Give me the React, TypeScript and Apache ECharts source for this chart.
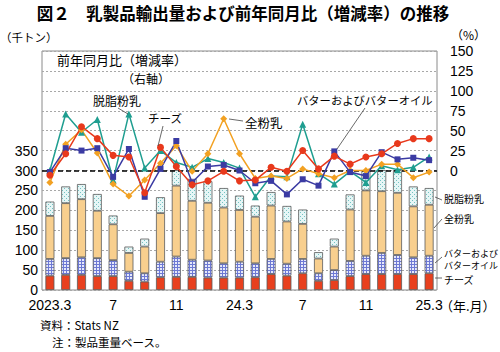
import React, { useEffect, useRef } from 'react';
import * as echarts from 'echarts';

// ---- data ----
const categories = [
  '2023.3', '2023.4', '2023.5', '2023.6', '2023.7', '2023.8', '2023.9', '2023.10', '2023.11', '2023.12',
  '2024.1', '2024.2', '2024.3', '2024.4', '2024.5', '2024.6', '2024.7', '2024.8', '2024.9', '2024.10',
  '2024.11', '2024.12', '2025.1', '2025.2', '2025.3',
];
const tickLabels = [
  '2023.3', '', '', '', '7', '', '', '', '11', '', '', '', '24.3', '', '', '', '7', '', '', '', '11', '', '', '', '25.3',
];
const leftTicks = [0, 50, 100, 150, 200, 250, 300, 350];
const rightTicks = [0, 25, 50, 75, 100, 125, 150];

// export volume (thousand tonnes)
const cheeseVol = [36, 38, 38, 35, 35, 23, 21, 32, 33, 33, 31, 31, 31, 32, 40, 36, 42, 23, 25, 35, 40, 40, 40, 40, 42];
const butterVol = [42, 42, 44, 45, 40, 23, 21, 39, 51, 43, 43, 36, 40, 35, 38, 30, 36, 19, 25, 38, 46, 53, 48, 42, 44];
const wmpVol = [108, 138, 146, 119, 90, 47, 67, 122, 178, 148, 145, 140, 130, 117, 134, 106, 88, 37, 59, 129, 164, 155, 156, 128, 128];
const smpVol = [36, 42, 38, 42, 22, 16, 20, 40, 45, 55, 54, 49, 36, 28, 34, 39, 36, 16, 20, 38, 58, 60, 62, 50, 42];

// year-on-year change (%)
const smpYoY = [0, 71, 48, 64, -12, 71, 3, 25, 10, 4, 15, 10, 3, -33, -7, -8, 58, -4, -17, -1, -15, 6, 1, 4, 17];
const wmpYoY = [-15, 33, 51, 22, -17, -32, -12, 9, 31, -1, 21, 65, 21, -10, -7, -10, 2, -4, -9, 0, 0, 8, 8, -9, -2];
const butterYoY = [-2, 28, 25, 28, -8, 27, -33, 2, 37, -15, 5, 7, 0, -16, -13, -30, -11, -19, 24, -2, -7, 23, 14, 16, 13];
const cheeseYoY = [-6, 21, 55, 40, 19, 17, -28, 29, 5, -18, -13, -1, -13, -12, 4, -1, 25, 2, 18, 8, 17, 21, 34, 40, 40];

const JP = "'Noto Sans CJK JP', sans-serif";
const NUM = "'Liberation Sans', Arial, 'Noto Sans CJK JP', sans-serif";

function makePattern(kind: 'grid' | 'dots') {
  const c = document.createElement('canvas');
  if (kind === 'grid') {
    c.width = 3; c.height = 3;
    const ctx = c.getContext('2d')!;
    ctx.fillStyle = '#e6e8fa';
    ctx.fillRect(0, 0, 3, 3);
    ctx.fillStyle = '#6d79d4';
    ctx.fillRect(0, 0, 3, 1);
    ctx.fillRect(0, 0, 1, 3);
    return { image: c, repeat: 'repeat', imageWidth: 3, imageHeight: 3 } as any;
  }
  c.width = 4; c.height = 4;
  const ctx = c.getContext('2d')!;
  ctx.fillStyle = '#e6f6f6';
  ctx.fillRect(0, 0, 4, 4);
  ctx.fillStyle = '#74c2c2';
  ctx.fillRect(0, 0, 1, 1);
  ctx.fillRect(2, 2, 1, 1);
  return { image: c, repeat: 'repeat', imageWidth: 4, imageHeight: 4 } as any;
}

function txt(text: string, x: number, y: number, size: number, extra: any = {}) {
  return {
    type: 'text', x, y, z: 100,
    style: { text, fontSize: size, fontFamily: JP, fill: '#000', verticalAlign: 'middle', ...extra },
  };
}
function ln(x1: number, y1: number, x2: number, y2: number) {
  return { type: 'line', z: 100, shape: { x1, y1, x2, y2 }, style: { stroke: '#444', lineWidth: 0.8 } };
}

export default function App() {
  const ref = useRef<HTMLDivElement>(null);
  useEffect(() => {
    if (!ref.current) return;
    const chart = echarts.init(ref.current, null, { renderer: 'svg' });
    const barBorder = { borderColor: '#5a5a5a', borderWidth: 0.8 };
    const lineSeries = (name: string, data: number[], color: string, symbol: string, size: number, extra: any = {}) => ({
      name, type: 'line', xAxisIndex: 0, yAxisIndex: 1, data,
      symbol, symbolSize: size,
      lineStyle: { color, width: 1.5 },
      itemStyle: { color },
      z: 5,
      ...extra,
    });
    chart.setOption({
      animation: false,
      backgroundColor: '#fff',
      grid: [
        { left: 42, right: 63, top: 51, bottom: 62, show: true, borderColor: '#8a8a8a', borderWidth: 1, backgroundColor: '#fff' },
        { left: 42, right: 63, top: 170.5, bottom: 62, show: false },
      ],
      xAxis: [
        {
          type: 'category', gridIndex: 0, data: categories, boundaryGap: true,
          axisLine: { show: false }, axisTick: { show: false },
          axisLabel: {
            interval: 0, margin: 8, fontSize: 14, fontFamily: NUM, color: '#000',
            formatter: (_v: string, i: number) => tickLabels[i],
          },
        },
        { type: 'category', gridIndex: 1, data: categories, boundaryGap: true, show: false },
      ],
      yAxis: [
        {
          type: 'value', gridIndex: 0, min: 0, max: 600, interval: 50, position: 'left',
          axisLine: { show: false }, axisTick: { show: false },
          axisLabel: {
            margin: 4, fontSize: 14, fontFamily: NUM, color: '#000',
            formatter: (v: number) => (leftTicks.includes(v) ? String(v) : ''),
          },
          splitLine: { show: true, lineStyle: { color: '#a8a8a8', type: [2, 2], width: 1 } },
        },
        {
          type: 'value', gridIndex: 0, min: -150, max: 150, interval: 25, position: 'right',
          axisLine: { show: false }, axisTick: { show: false },
          axisLabel: {
            margin: 13, fontSize: 14, fontFamily: NUM, color: '#000',
            formatter: (v: number) => (rightTicks.includes(v) ? String(v) : ''),
          },
          splitLine: { show: false },
        },
        { type: 'value', gridIndex: 1, min: 0, max: 300, show: false, splitLine: { show: false } },
      ],
      series: [
        { name: 'チーズ', type: 'bar', stack: 'vol', xAxisIndex: 1, yAxisIndex: 2, data: cheeseVol, barWidth: 9, itemStyle: { color: '#e8401e', ...barBorder } },
        { name: 'バターおよびバターオイル', type: 'bar', stack: 'vol', xAxisIndex: 1, yAxisIndex: 2, data: butterVol, barWidth: 9, itemStyle: { color: makePattern('grid'), ...barBorder } },
        { name: '全粉乳', type: 'bar', stack: 'vol', xAxisIndex: 1, yAxisIndex: 2, data: wmpVol, barWidth: 9, itemStyle: { color: '#f8cf8e', ...barBorder } },
        { name: '脱脂粉乳', type: 'bar', stack: 'vol', xAxisIndex: 1, yAxisIndex: 2, data: smpVol, barWidth: 9, itemStyle: { color: makePattern('dots'), ...barBorder } },
        lineSeries('脱脂粉乳（前年同月比）', smpYoY, '#1f9e90', 'triangle', 7, {
          markLine: {
            silent: true, symbol: ['none', 'none'], label: { show: false },
            lineStyle: { color: '#000', type: [5, 3], width: 1.6 },
            emphasis: { disabled: true },
            data: [{ yAxis: 0 }],
          },
        }),
        lineSeries('全粉乳（前年同月比）', wmpYoY, '#f2a122', 'diamond', 7),
        lineSeries('バターおよびバターオイル（前年同月比）', butterYoY, '#3b3ba3', 'rect', 6),
        lineSeries('チーズ（前年同月比）', cheeseYoY, '#e8391c', 'circle', 7),
      ],
      graphic: [
        txt('図２　乳製品輸出量および前年同月比（増減率）の推移', 243, 13, 16.5, { textAlign: 'center', fontWeight: 'bold' }),
        txt('（千トン）', 0, 37, 11.5),
        txt('（%）', 451, 34, 12),
        txt('前年同月比（増減率）', 57, 59, 13),
        txt('（右軸）', 122, 78, 12),
        txt('脱脂粉乳', 93, 100, 12),
        ln(118, 108, 128, 114),
        txt('チーズ', 148, 118, 11.5),
        ln(163, 126, 158, 146),
        txt('全粉乳', 245, 122, 12.5),
        ln(229, 119, 243, 121),
        txt('バターおよびバターオイル', 297, 100, 11.3),
        ln(365, 108, 337, 149),
        txt('脱脂粉乳', 444, 198, 10),
        ln(435, 197, 442, 200),
        txt('全粉乳', 444, 218, 10),
        ln(434, 228, 442, 219),
        txt('バターおよび', 444, 253, 9),
        txt('バターオイル', 444, 265, 9),
        ln(435, 263, 442, 257),
        txt('チーズ', 444, 279, 10),
        ln(435, 278, 442, 278),
        txt('（年.月）', 440, 305, 13),
        txt('資料：Stats NZ', 40, 325, 11.5),
        txt('注：製品重量ベース。', 52, 342, 11.5),
      ],
    });
    return () => chart.dispose();
  }, []);
  return <div ref={ref} style={{ position: 'fixed', left: 0, top: 0, width: 500, height: 352, background: '#fff' }} />;
}
